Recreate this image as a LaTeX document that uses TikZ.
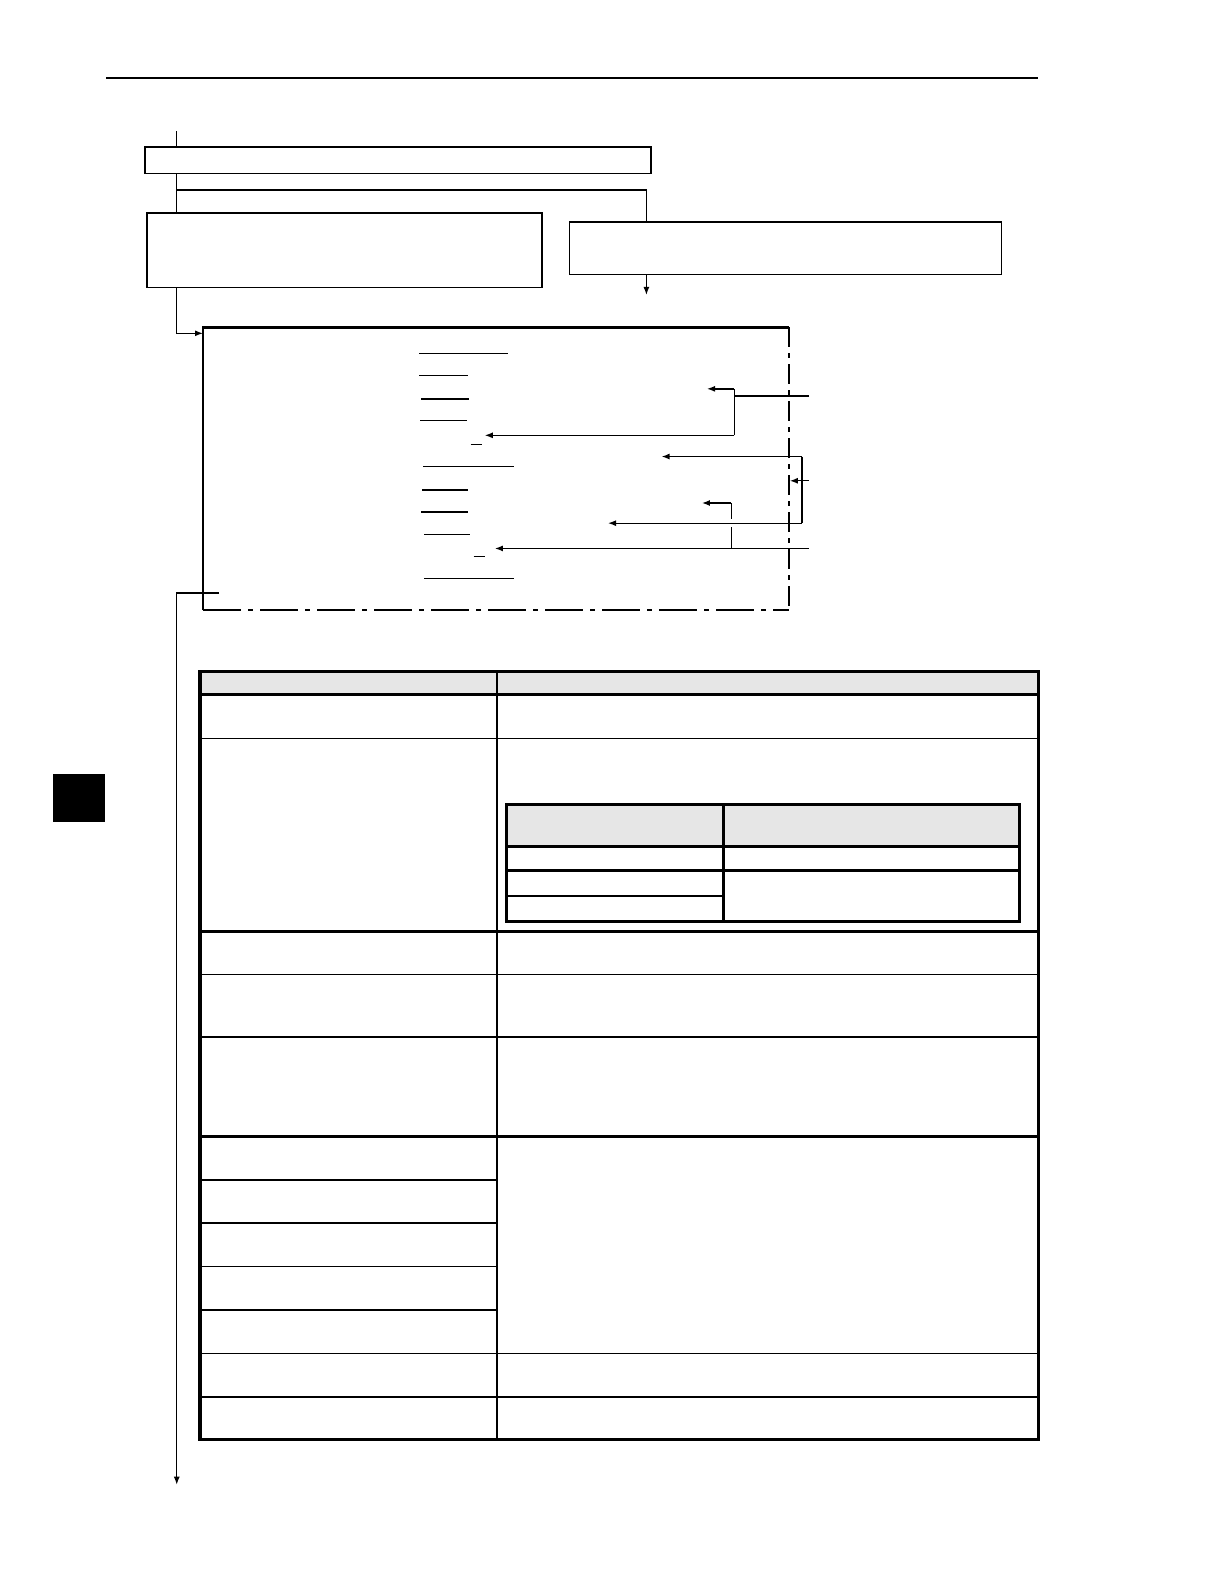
\documentclass[tikz,border=0pt]{standalone}
\usepackage{tikz}
\usetikzlibrary{calc, arrows.meta, positioning}
\tikzset{>={Latex[length=4pt,width=3pt]}}
\definecolor{mygray1}{RGB}{230, 230, 230}
\definecolor{mynavy}{RGB}{25, 25, 130}
\tikzset{
  box/.style = {draw, line width=0.75pt, anchor=north west, inner sep=0pt},
  conn/.style = {line width=0.65pt},
  thinrule/.style = {line width=0.8pt},
  thickrule/.style = {line width=1.5pt},
  dashR/.style = {line width=0.8pt, dash pattern=on 10pt off 3pt on 2.5pt off 3pt},
  dashB/.style = {line width=0.8pt, dash pattern=on 19pt off 3.5pt on 2.5pt off 3.5pt}
}

\begin{document}
\begin{tikzpicture}[x=0.505pt, y=-0.505pt]
\useasboundingbox (0,0) rectangle (1211.9,1568.3);
\draw[line width=0.75pt] (105,77) -- (1028,77);
\fill (52,766) rectangle (104,814);
\draw[mynavy, line width=0.8pt] (127,1578) -- (268,1578);

% flow boxes
\node[box, minimum width=253pt, minimum height=13.1pt] (topbox) at (143,145) {};
\node[box, minimum width=197.5pt, minimum height=37.4pt] (condbox) at (145,210) {};
\node[box, minimum width=216.1pt, minimum height=26.3pt] (altbox) at (563,219) {};
\coordinate (start) at (175,130);
\coordinate (branch) at (175,188);
\coordinate (branchR) at (640,188);
\coordinate (altout) at (640,292);
\coordinate (entry) at (201,330);
\coordinate (exitin) at (217,587);
\coordinate (exitout) at (175,1470);
\draw[conn] (start) -- (start |- topbox.north);
\draw[conn] (topbox.south -| start) -- (start |- condbox.north);
\draw[conn] (branch) -- (branchR) -- (branchR |- altbox.north);
\draw[conn, ->] (branchR |- altbox.south) -- (altout);
\draw[conn, ->] (condbox.south -| start) |- (entry);
\draw[conn, ->] (exitin) -| (exitout);

% listing frame
\coordinate (bnw) at (201,324);
\coordinate (bne) at (781,324);
\coordinate (bse) at (781,604);
\coordinate (bsw) at (201,604);
\draw[line width=0.8pt] (bsw) -- (bnw);
\draw[line width=1.3pt] ($(bnw)+(-0.8,0)$) -- (bne);
\draw[dashR] (bne) -- (bse);
\draw[dashB] (bsw) -- (bse);
\foreach \xa/\xb/\y in {415/503/350, 415/463/372, 417/464/395, 416/462/416, 466/477/440,
  419/509/462, 418/463/485, 417/463/507, 420/465/529, 469/480/551, 420/509/573}
  \draw[conn] (\xa,\y) -- (\xb,\y);

% pointers
\coordinate (pa) at (801,392);
\coordinate (pa1) at (727,385);
\coordinate (pa2) at (727,431);
\draw[conn] (pa) -- (727,392);
\draw[conn] (pa1) -- (pa2);
\draw[conn, ->] (pa1) -- (700,385);
\draw[conn, ->] (pa2) -- (480,431);
\coordinate (pb) at (801,476);
\coordinate (pb1) at (794,452);
\coordinate (pb2) at (794,518);
\draw[conn, ->] (pb) -- (782,476);
\draw[conn] (pb1) -- (pb2);
\draw[conn, ->] (pb1) -- (655,452);
\draw[conn, ->] (pb2) -- (602,518);
\coordinate (pc) at (801,543);
\coordinate (pc1) at (724,498);
\draw[conn, ->] (pc) -- (490,543);
\draw[conn] (pc1) -- (724,514);
\draw[conn] (724,522) -- (724,543);
\draw[conn, ->] (pc1) -- (695,498);

% parameter table
\fill[mygray1] (198,665) rectangle (1028,688);
\foreach \y in {731, 965, 1027, 1340, 1383}
  \draw[thinrule] (198,\y) -- (1028,\y);
\foreach \y in {688, 922, 1125}
  \draw[thickrule] (198,\y) -- (1028,\y);
\foreach \y in {1168, 1211, 1254, 1297}
  \draw[thinrule] (198,\y) -- (492,\y);
\draw[thinrule] (492,665) -- (492,1425);
\draw[line width=1.7pt] (198,665) rectangle (1028,1425);

% inner table
\fill[mygray1] (501,797) rectangle (1009,838);
\draw[thickrule] (501,838) -- (1009,838);
\draw[thickrule] (501,862) -- (1009,862);
\draw[thinrule] (501,887) -- (716,887);
\draw[thickrule] (716,797) -- (716,912);
\draw[thickrule] (501,797) rectangle (1009,912);
\end{tikzpicture}
\end{document}
